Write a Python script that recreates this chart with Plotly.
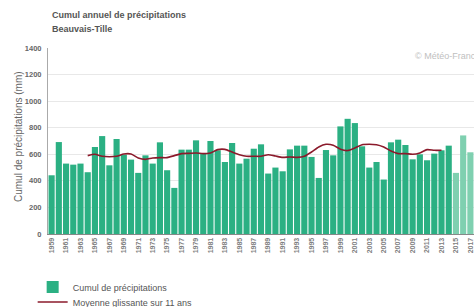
import plotly.graph_objects as go

years = list(range(1959, 2018))
precip = [442, 692, 530, 522, 530, 465, 655, 737, 517, 715,
          597, 560, 460, 592, 530, 690, 480, 347, 635, 635,
          705, 605, 700, 630, 542, 685, 530, 567, 642, 675,
          455, 500, 472, 637, 665, 665, 580, 422, 632, 592,
          810, 867, 835, 660, 500, 542, 410, 690, 710, 670,
          562, 600, 555, 605, 630, 665, 460, 742, 615]
light_from = 2015

ma_years = list(range(1964, 2014))
ma_values = [590, 600, 585, 582, 585, 602, 602, 572, 562, 572,
             575, 575, 590, 605, 607, 610, 605, 610, 635, 637,
             617, 597, 585, 585, 585, 597, 587, 577, 580, 577,
             585, 617, 655, 675, 668, 638, 628, 647, 672, 675,
             672, 655, 625, 605, 605, 600, 610, 635, 630, 630]

tick_years = list(range(1959, 2018, 2))
y_ticks = list(range(0, 1401, 200))

FONT = "Liberation Sans, Arial, sans-serif"
bar_colors = ["#7fd0b0" if y >= light_from else "#2bb083" for y in years]

fig = go.Figure()
fig.add_trace(go.Bar(
    x=years, y=precip, name="Cumul de précipitations",
    marker=dict(color=bar_colors, line=dict(width=0)),
    showlegend=True, legend="legend",
))
fig.add_trace(go.Scatter(
    x=ma_years, y=ma_values, name="Moyenne glissante sur 11 ans",
    mode="lines", line=dict(color="#8b1a2b", width=1.6, shape="spline", smoothing=0.6),
    legend="legend2",
))

legend_common = dict(
    font=dict(size=9, color="#555555", family=FONT),
    tracegroupgap=0, itemwidth=30, bgcolor="rgba(0,0,0,0)",
    xanchor="left", yanchor="middle",
)

fig.update_layout(
    width=474, height=307,
    margin=dict(l=48, r=0, t=48, b=73, autoexpand=False),
    paper_bgcolor="white", plot_bgcolor="white",
    bargap=0.15,
    font=dict(family=FONT, size=8, color="#666666"),
    showlegend=True,
    legend=dict(x=-0.036, y=(234 - 287) / 186, **legend_common),
    legend2=dict(x=-0.036, y=(234 - 302) / 186, **legend_common),
    xaxis=dict(
        range=[1958.5, 2017.5], tickmode="array", tickvals=tick_years,
        ticktext=["<b>%d</b>" % y for y in tick_years], tickangle=-90,
        tickfont=dict(size=7, color="#808080", family=FONT),
        showgrid=False, showline=True, linecolor="#888888", linewidth=1,
        ticks="", zeroline=False, automargin=False,
    ),
    yaxis=dict(
        range=[0, 1400], tickmode="array", tickvals=y_ticks,
        ticktext=["<b>%d</b>" % v for v in y_ticks],
        tickfont=dict(size=7.5, color="#666666", family=FONT),
        showgrid=True, gridcolor="#e8e8e8", gridwidth=1,
        showline=True, linecolor="#aaaaaa", linewidth=1,
        zeroline=False, ticks="", ticklabelstandoff=4, automargin=False,
    ),
    annotations=[
        dict(text="<b>Cumul annuel de précipitations</b>", xref="paper", yref="paper",
             x=(50 - 48) / 426, y=(234 - 15) / 186, xanchor="left", yanchor="middle",
             showarrow=False, font=dict(size=9, color="#555555", family=FONT)),
        dict(text="<b>Beauvais-Tille</b>", xref="paper", yref="paper",
             x=(50 - 48) / 426, y=(234 - 29) / 186, xanchor="left", yanchor="middle",
             showarrow=False, font=dict(size=9, color="#555555", family=FONT)),
        dict(text="Cumul de précipitations (mm)", xref="paper", yref="paper",
             x=(18 - 48) / 426, y=(234 - 137) / 186, xanchor="center", yanchor="middle",
             textangle=-90, showarrow=False, font=dict(size=10, color="#666666", family=FONT)),
        dict(text="© Météo-France", xref="paper", yref="paper",
             x=(413 - 48) / 426, y=(234 - 56) / 186, xanchor="left", yanchor="middle",
             showarrow=False, font=dict(size=9, color="#c0c0c0", family=FONT)),
    ],
)

fig.write_html(
    "out.html",
    config={"displayModeBar": False},
    post_script="document.body.style.margin='0';document.body.style.overflow='hidden';",
)
